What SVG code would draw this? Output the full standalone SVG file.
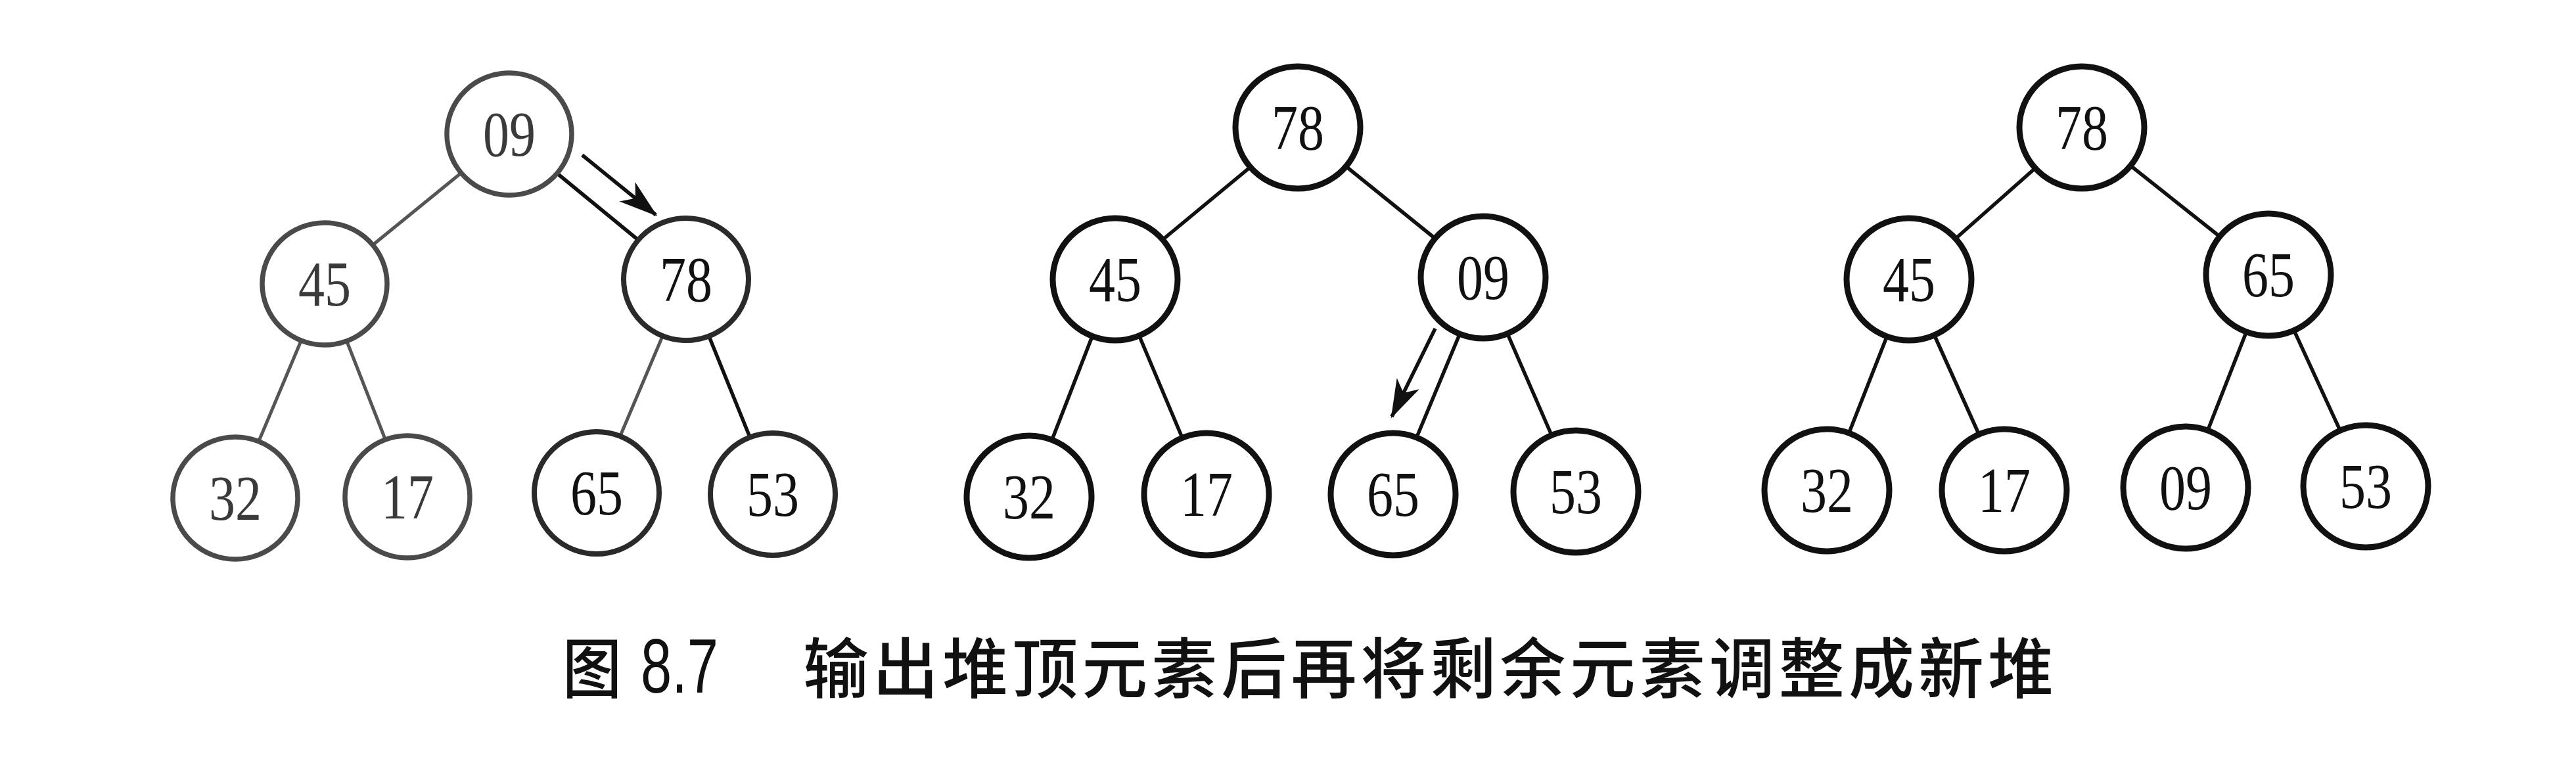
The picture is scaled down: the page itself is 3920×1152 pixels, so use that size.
<svg xmlns="http://www.w3.org/2000/svg" width="3920" height="1152" viewBox="0 0 3920 1152">
<style>
.n{fill:#fff;stroke:#111;stroke-width:9}
.n1{fill:#fff;stroke:#4a4a4a;stroke-width:7.5}
.n1d{fill:#fff;stroke:#2a2a2a;stroke-width:8}
.t{font-family:"Liberation Serif","Times New Roman",serif;font-size:98px;text-anchor:middle;fill:#111}
.t1{fill:#3a3a3a}
.e{stroke:#111;stroke-width:5.5;fill:none}
.e1{stroke:#555;stroke-width:5;fill:none}
.a{stroke:#111;stroke-width:5.5;fill:none}
.cap{font-family:"Noto Sans CJK SC","Noto Sans",sans-serif;font-size:100px;font-weight:500;fill:#111}
</style>
<defs>
<marker id="ah" viewBox="-60 -22 64 44" refX="0" refY="0" markerWidth="64" markerHeight="44" markerUnits="userSpaceOnUse" orient="auto">
<path d="M3,0 L-56,-19 L-40,0 L-56,19 Z" fill="#111"/>
</marker>
</defs>
<rect width="3920" height="1152" fill="#fff"/>
<g id="connectors">
<line class="e1" x1="702" y1="263" x2="567" y2="373"/>
<line class="e" x1="848" y1="264" x2="971" y2="365"/>
<line class="e1" x1="458" y1="519" x2="394" y2="671"/>
<line class="e1" x1="528" y1="520" x2="586" y2="668"/>
<line class="e1" x1="1008" y1="512" x2="944" y2="663"/>
<line class="e" x1="1079" y1="512" x2="1141" y2="665"/>
<line class="a" x1="886" y1="236" x2="998" y2="327" marker-end="url(#ah)"/>
<line class="e" x1="1903" y1="254" x2="1769" y2="365"/>
<line class="e" x1="2048" y1="253" x2="2184" y2="363"/>
<line class="e" x1="1662" y1="512" x2="1601" y2="669"/>
<line class="e" x1="1734" y1="512" x2="1799" y2="666"/>
<line class="e" x1="2221" y1="509" x2="2156" y2="665"/>
<line class="e" x1="2294" y1="508" x2="2361" y2="662"/>
<line class="a" x1="2184" y1="500" x2="2118" y2="634" marker-end="url(#ah)"/>
<line class="e" x1="3097" y1="256" x2="2976" y2="363"/>
<line class="e" x1="3242" y1="252" x2="3378" y2="360"/>
<line class="e" x1="2871" y1="513" x2="2814" y2="658"/>
<line class="e" x1="2944" y1="511" x2="3011" y2="660"/>
<line class="e" x1="3418" y1="506" x2="3360" y2="654"/>
<line class="e" x1="3491" y1="503" x2="3561" y2="655"/>
</g>
<g id="tree1">
<g id="t1-09"><ellipse class="n1" cx="775" cy="204" rx="95" ry="93"/><text class="t t1" x="775" y="237" textLength="80" lengthAdjust="spacingAndGlyphs">09</text></g>
<g id="t1-45"><ellipse class="n1" cx="494" cy="432" rx="95" ry="93"/><text class="t t1" x="494" y="465" textLength="80" lengthAdjust="spacingAndGlyphs">45</text></g>
<g id="t1-78"><ellipse class="n1d" cx="1044" cy="425" rx="95" ry="93"/><text class="t" x="1044" y="458" textLength="80" lengthAdjust="spacingAndGlyphs">78</text></g>
<g id="t1-32"><ellipse class="n1" cx="358" cy="758" rx="95" ry="93"/><text class="t t1" x="358" y="791" textLength="80" lengthAdjust="spacingAndGlyphs">32</text></g>
<g id="t1-17"><ellipse class="n1" cx="620" cy="756" rx="95" ry="93"/><text class="t t1" x="620" y="789" textLength="80" lengthAdjust="spacingAndGlyphs">17</text></g>
<g id="t1-65"><ellipse class="n1d" cx="908" cy="750" rx="95" ry="93"/><text class="t" x="908" y="783" textLength="80" lengthAdjust="spacingAndGlyphs">65</text></g>
<g id="t1-53"><ellipse class="n1d" cx="1176" cy="752" rx="95" ry="93"/><text class="t" x="1176" y="785" textLength="80" lengthAdjust="spacingAndGlyphs">53</text></g>
</g>
<g id="tree2">
<g id="t2-78"><ellipse class="n" cx="1975" cy="194" rx="95" ry="93"/><text class="t" x="1975" y="227" textLength="80" lengthAdjust="spacingAndGlyphs">78</text></g>
<g id="t2-45"><ellipse class="n" cx="1697" cy="425" rx="95" ry="93"/><text class="t" x="1697" y="458" textLength="80" lengthAdjust="spacingAndGlyphs">45</text></g>
<g id="t2-09"><ellipse class="n" cx="2257" cy="422" rx="95" ry="93"/><text class="t" x="2257" y="455" textLength="80" lengthAdjust="spacingAndGlyphs">09</text></g>
<g id="t2-32"><ellipse class="n" cx="1566" cy="756" rx="95" ry="93"/><text class="t" x="1566" y="789" textLength="80" lengthAdjust="spacingAndGlyphs">32</text></g>
<g id="t2-17"><ellipse class="n" cx="1836" cy="752" rx="95" ry="93"/><text class="t" x="1836" y="785" textLength="80" lengthAdjust="spacingAndGlyphs">17</text></g>
<g id="t2-65"><ellipse class="n" cx="2120" cy="752" rx="95" ry="93"/><text class="t" x="2120" y="785" textLength="80" lengthAdjust="spacingAndGlyphs">65</text></g>
<g id="t2-53"><ellipse class="n" cx="2398" cy="748" rx="95" ry="93"/><text class="t" x="2398" y="781" textLength="80" lengthAdjust="spacingAndGlyphs">53</text></g>
</g>
<g id="tree3">
<g id="t3-78"><ellipse class="n" cx="3168" cy="194" rx="95" ry="93"/><text class="t" x="3168" y="227" textLength="80" lengthAdjust="spacingAndGlyphs">78</text></g>
<g id="t3-45"><ellipse class="n" cx="2905" cy="425" rx="95" ry="93"/><text class="t" x="2905" y="458" textLength="80" lengthAdjust="spacingAndGlyphs">45</text></g>
<g id="t3-65"><ellipse class="n" cx="3452" cy="418" rx="95" ry="93"/><text class="t" x="3452" y="451" textLength="80" lengthAdjust="spacingAndGlyphs">65</text></g>
<g id="t3-32"><ellipse class="n" cx="2780" cy="746" rx="95" ry="93"/><text class="t" x="2780" y="779" textLength="80" lengthAdjust="spacingAndGlyphs">32</text></g>
<g id="t3-17"><ellipse class="n" cx="3050" cy="746" rx="95" ry="93"/><text class="t" x="3050" y="779" textLength="80" lengthAdjust="spacingAndGlyphs">17</text></g>
<g id="t3-09"><ellipse class="n" cx="3326" cy="742" rx="95" ry="93"/><text class="t" x="3326" y="775" textLength="80" lengthAdjust="spacingAndGlyphs">09</text></g>
<g id="t3-53"><ellipse class="n" cx="3600" cy="740" rx="95" ry="93"/><text class="t" x="3600" y="773" textLength="80" lengthAdjust="spacingAndGlyphs">53</text></g>
</g>
<g id="caption">
<text class="cap" x="856" y="1054" textLength="90" lengthAdjust="spacingAndGlyphs">图</text>
<text x="975" y="1054" font-family="Liberation Sans, Arial, sans-serif" font-size="116" fill="#111" textLength="118" lengthAdjust="spacingAndGlyphs">8.7</text>
<text class="cap" x="1222" y="1054" textLength="1903" lengthAdjust="spacing">输出堆顶元素后再将剩余元素调整成新堆</text>
</g>
</svg>
